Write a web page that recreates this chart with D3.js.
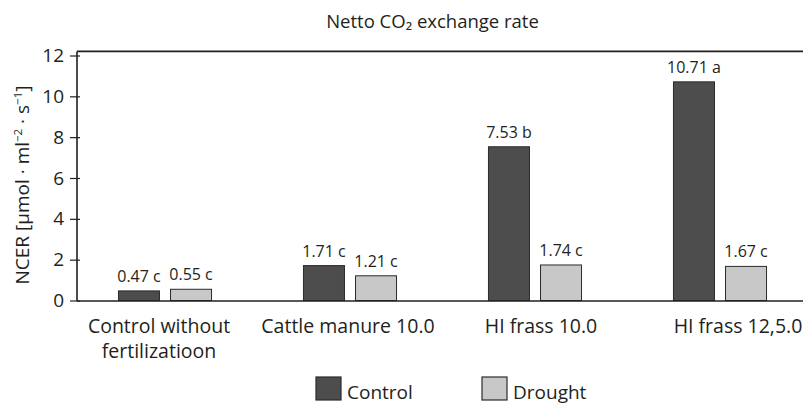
<!DOCTYPE html>
<html>
<head>
<meta charset="utf-8">
<script src="https://cdn.jsdelivr.net/npm/d3@7"></script>
<style>
  html, body { margin: 0; padding: 0; background: #fff; }
  svg { display: block; }
  text { font-family: "Open Sans", "Noto Sans", sans-serif; fill: #231f20; }
</style>
</head>
<body>
<svg id="chart" width="803" height="405"></svg>
<script>
// ---- data ----
const categories = ["Control without\nfertilizatioon", "Cattle manure 10.0", "HI frass 10.0", "HI frass 12,5.0"];
const series = ["Control", "Drought"];
const controlValues = [0.47, 1.71, 7.53, 10.71];
const droughtValues = [0.55, 1.21, 1.74, 1.67];
const controlLetters = ["c", "c", "b", "a"];
const droughtLetters = ["c", "c", "c", "c"];
const yTicks = [0, 2, 4, 6, 8, 10, 12];
const title = "Netto CO₂ exchange rate";

// ---- layout ----
const W = 803, H = 405;
const axisX = 77, frameRight = 803;
const yTop = 12.2;
const colors = { Control: "#4d4d4d", Drought: "#c8c8c8" };
const labelDx = [-6, -2, 6, 18];

const svg = d3.select("#chart");

const y = d3.scaleLinear().domain([0, 12]).range([300.5, 55.5]);
const x0 = d3.scaleBand().domain(categories).range([72.5, 812.5])
  .paddingInner(0.497).paddingOuter(0.2485);
const x1 = d3.scaleBand().domain(series).range([0, x0.bandwidth()]).paddingInner(0.212);
const color = d3.scaleOrdinal().domain(series).range([colors.Control, colors.Drought]);

const rows = categories.map((c, i) => ({
  cat: c,
  vals: [
    { s: "Control", v: controlValues[i], l: controlLetters[i] },
    { s: "Drought", v: droughtValues[i], l: droughtLetters[i] }
  ]
}));

// title
svg.append("text").attr("x", 432.5).attr("y", 28).attr("text-anchor", "middle")
  .style("font-size", "18.5px").text(title);

// top frame line
svg.append("line").attr("x1", axisX).attr("x2", frameRight)
  .attr("y1", y(yTop)).attr("y2", y(yTop)).attr("stroke", "#231f20").attr("stroke-width", 1.6);

// bars
const g = svg.append("g").selectAll("g").data(rows).join("g")
  .attr("transform", d => `translate(${x0(d.cat)},0)`);
g.selectAll("rect").data(d => d.vals).join("rect")
  .attr("x", d => x1(d.s)).attr("width", x1.bandwidth())
  .attr("y", d => y(d.v)).attr("height", d => y(0) - y(d.v))
  .attr("fill", d => color(d.s)).attr("stroke", "#2b2b2b").attr("stroke-width", 1);
g.selectAll("text.val").data(d => d.vals).join("text").attr("class", "val")
  .attr("x", d => x1(d.s) + x1.bandwidth() / 2).attr("y", d => y(d.v) - 9)
  .attr("text-anchor", "middle").style("font-size", "16px")
  .text(d => `${d.v.toFixed(2)} ${d.l}`);

// y axis
const yAxis = d3.axisLeft(y).tickValues(yTicks).tickSize(7).tickPadding(6).tickFormat(d3.format("d"));
const ya = svg.append("g").attr("transform", `translate(${axisX},0)`).call(yAxis);
ya.select(".domain").remove();
ya.selectAll(".tick line").attr("x1", 3).attr("stroke", "#231f20").attr("stroke-width", 1.2);
ya.selectAll(".tick text").style("font-size", "19px").attr("fill", "#231f20")
  .style("font-family", '"Open Sans", sans-serif');
svg.append("line").attr("x1", axisX).attr("x2", axisX)
  .attr("y1", y(yTop)).attr("y2", y(0) + 0.5).attr("stroke", "#231f20").attr("stroke-width", 1.6);

// x axis baseline
svg.append("line").attr("x1", axisX).attr("x2", frameRight)
  .attr("y1", y(0) + 0.5).attr("y2", y(0) + 0.5).attr("stroke", "#231f20").attr("stroke-width", 1.4);

// category labels
categories.forEach((c, i) => {
  const t = svg.append("text").attr("text-anchor", "middle").style("font-size", "19.5px")
    .attr("x", x0(c) + x0.bandwidth() / 2 + labelDx[i]).attr("y", 333);
  c.split("\n").forEach((line, j) => {
    t.append("tspan").attr("x", x0(c) + x0.bandwidth() / 2 + labelDx[i])
      .attr("dy", j === 0 ? 0 : 25).text(line);
  });
});

// y label
const yl = svg.append("text").attr("transform", `translate(29,185) rotate(-90)`)
  .attr("text-anchor", "middle").style("font-size", "19px");
yl.append("tspan").text("NCER [µmol · ml");
yl.append("tspan").attr("baseline-shift", "super").style("font-size", "11.5px").text("−2");
yl.append("tspan").text(" · s");
yl.append("tspan").attr("baseline-shift", "super").style("font-size", "11.5px").text("−1");
yl.append("tspan").text("]");

// legend
const lg = svg.append("g").selectAll("g").data(series).join("g")
  .attr("transform", (d, i) => `translate(${316 + i * 166},377)`);
lg.append("rect").attr("width", 25).attr("height", 23)
  .attr("fill", d => color(d)).attr("stroke", "#2b2b2b").attr("stroke-width", 1.2);
lg.append("text").attr("x", 31).attr("y", 22).style("font-size", "19px").text(d => d);
</script>
</body>
</html>
